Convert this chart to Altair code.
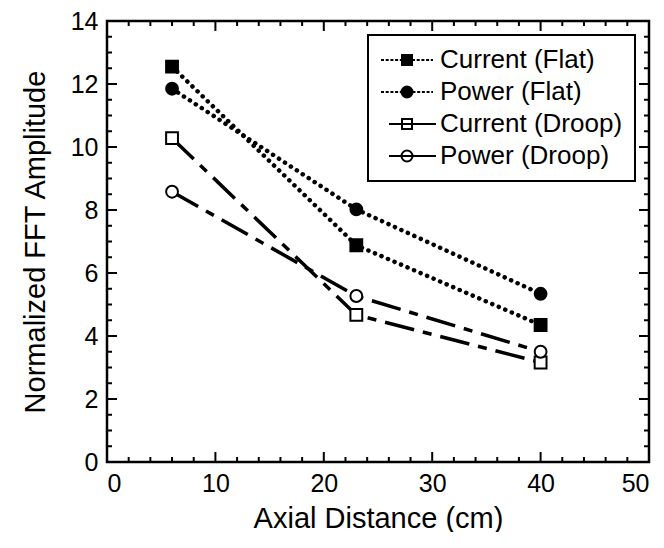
import altair as alt
import pandas as pd

# ---- data ----
axial_cm = [6, 23, 40]
series_names = ["Current (Flat)", "Power (Flat)", "Current (Droop)", "Power (Droop)"]
current_flat = [12.55, 6.88, 4.35]
power_flat = [11.85, 8.02, 5.34]
current_droop = [10.28, 4.67, 3.16]
power_droop = [8.58, 5.27, 3.50]

x_label_values = [0, 10, 20, 30, 40, 50]
y_label_values = [0, 2, 4, 6, 8, 10, 12, 14]
x_major_ticks = [0, 10, 20, 30, 40, 50]
x_minor_ticks = [v for v in range(0, 51, 2) if v % 10 != 0]
y_major_ticks = [0, 2, 4, 6, 8, 10, 12, 14]
y_minor_ticks = [v * 0.5 for v in range(29) if (v * 0.5) % 2 != 0]

marker_shapes = ["square", "circle", "square", "circle"]
marker_fills = ["black", "black", "white", "white"]

rows = []
for name, vals in zip(series_names, [current_flat, power_flat, current_droop, power_droop]):
    for xv, yv in zip(axial_cm, vals):
        rows.append({"x": xv, "y": yv, "series": name,
                     "group": "Flat" if "Flat" in name else "Droop"})
df = pd.DataFrame(rows)

W, H = 542, 441
X0, X1, Y0, Y1 = 0, 50, 0, 14
FONT = "Liberation Sans"
MAJOR, MINOR = 10, 5   # tick lengths in px

xscale = alt.Scale(domain=[X0, X1], nice=False, zero=False)
yscale = alt.Scale(domain=[Y0, Y1], nice=False, zero=False)

label_x_axis = alt.Axis(values=x_label_values, ticks=False, domain=False, grid=False,
                        labelPadding=9, labelFontSize=25, labelFont=FONT, labelColor="black",
                        title="Axial Distance (cm)", titleFontSize=29, titleFont=FONT,
                        titleFontWeight="normal", titleColor="black", titlePadding=8)
label_y_axis = alt.Axis(values=y_label_values, ticks=False, domain=False, grid=False,
                        labelPadding=9, labelFontSize=25, labelFont=FONT, labelColor="black",
                        title="Normalized FFT Amplitude", titleFontSize=29, titleFont=FONT,
                        titleFontWeight="normal", titleColor="black", titlePadding=20)

# dotted lines (Flat) -- this layer carries the shared axes
flat_lines = alt.Chart(df).transform_filter(alt.datum.group == "Flat").mark_line(
    color="black", strokeWidth=4.5, strokeDash=[0.1, 7], strokeCap="round"
).encode(
    x=alt.X("x:Q", scale=xscale, axis=label_x_axis),
    y=alt.Y("y:Q", scale=yscale, axis=label_y_axis),
    detail="series:N",
)

# dash-dot lines (Droop)
droop_lines = alt.Chart(df).transform_filter(alt.datum.group == "Droop").mark_line(
    color="black", strokeWidth=3.5, strokeDash=[30, 9, 9, 9]
).encode(
    x=alt.X("x:Q", scale=xscale),
    y=alt.Y("y:Q", scale=yscale),
    detail="series:N",
)

# markers
point_layers = []
for name, shp, fll in zip(series_names, marker_shapes, marker_fills):
    point_layers.append(
        alt.Chart(df).transform_filter(alt.datum.series == name).mark_point(
            shape=shp, fill=fll, filled=True, stroke="black", strokeWidth=2,
            opacity=1, size=140
        ).encode(
            x=alt.X("x:Q", scale=xscale),
            y=alt.Y("y:Q", scale=yscale),
        )
    )

# inward ticks on all four sides: each tick a two-point line in data coordinates
ux = (X1 - X0) / W   # data units per px
uy = (Y1 - Y0) / H
segs = []
for vals, ln in ((x_major_ticks, MAJOR), (x_minor_ticks, MINOR)):
    for v in vals:
        segs.append((v, Y0, v, Y0 + ln * uy))
        segs.append((v, Y1, v, Y1 - ln * uy))
for vals, ln in ((y_major_ticks, MAJOR), (y_minor_ticks, MINOR)):
    for v in vals:
        segs.append((X0, v, X0 + ln * ux, v))
        segs.append((X1, v, X1 - ln * ux, v))
tick_rows = []
for i, (xa, ya, xb, yb) in enumerate(segs):
    tick_rows.append({"tid": i, "x": xa, "y": ya})
    tick_rows.append({"tid": i, "x": xb, "y": yb})
ticks_df = pd.DataFrame(tick_rows)

tick_layer = alt.Chart(ticks_df).mark_line(color="black", strokeWidth=2, strokeCap="butt").encode(
    x=alt.X("x:Q", scale=xscale),
    y=alt.Y("y:Q", scale=yscale),
    detail="tid:N",
)


# legend symbols: line segment + marker as custom paths
def dotted(a, b, dash=0.3, gap=0.17):
    parts = []
    p = a
    while p < b - 1e-9:
        q = min(p + dash, b)
        parts.append(f"M{p:.2f},0H{q:.2f}")
        p = q + gap
    return "".join(parts)


sq = "M-0.5,-0.5H0.5V0.5H-0.5Z"
ci = "M0.55,0A0.55,0.55,0,1,1,-0.55,0A0.55,0.55,0,1,1,0.55,0Z"
legend_paths = [
    dotted(-2.6, -0.5) + dotted(0.5, 2.6) + sq,
    dotted(-2.6, -0.55) + dotted(0.55, 2.6) + ci,
    "M-1.8,0H2.9" + sq,
    "M-1.8,0H2.9" + ci,
]

leg = alt.Legend(title=None)
legend_layer = alt.Chart(df).transform_filter("false").mark_point(
    opacity=1, strokeWidth=2
).encode(
    x=alt.X("x:Q", scale=xscale),
    y=alt.Y("y:Q", scale=yscale),
    shape=alt.Shape("series:N", scale=alt.Scale(domain=series_names, range=legend_paths),
                    legend=leg),
    fill=alt.Fill("series:N", scale=alt.Scale(domain=series_names, range=marker_fills),
                  legend=leg),
    stroke=alt.Stroke("series:N", scale=alt.Scale(domain=series_names,
                      range=["black", "black", "black", "black"]), legend=leg),
)

chart = alt.layer(flat_lines, droop_lines, tick_layer, *point_layers, legend_layer).properties(
    width=W, height=H,
    autosize=alt.AutoSizeParams(type="none"),
    padding={"left": 99, "top": 13, "right": 7, "bottom": 70},
).configure_view(
    stroke="black", strokeWidth=2.5
).configure_legend(
    orient="none", legendX=261, legendY=14,
    strokeColor="black", strokeWidth=2, fillColor="white", cornerRadius=0,
    padding=12, rowPadding=6,
    labelFont=FONT, labelFontSize=26, labelColor="black", labelLimit=400,
    symbolSize=400, symbolStrokeWidth=2,
    symbolOffset=14, labelOffset=20,
)

chart.save("out.html", embed_options={"renderer": "svg", "actions": False})
